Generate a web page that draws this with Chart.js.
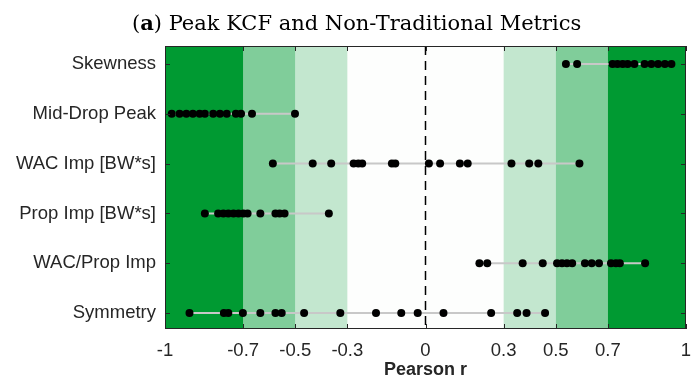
<!DOCTYPE html>
<html>
<head>
<meta charset="utf-8">
<script src="https://cdn.jsdelivr.net/npm/chart.js@4/dist/chart.umd.min.js"></script>
<style>
  body { margin: 0; background: #fff; }
  #wrap { position: relative; width: 692px; height: 387px; }
  #title { position: absolute; left: 132px; top: 12px; white-space: nowrap;
           font-family: "DejaVu Serif", serif; font-size: 21px; line-height: 21px; color: #000; }
  canvas { position: absolute; left: 0; top: 0; }
</style>
</head>
<body>
<div id="wrap">
  <canvas id="pearson" width="692" height="387"></canvas>
  <div id="title">(<b>a</b>) Peak KCF and Non-Traditional Metrics</div>
</div>
<script>
// rows, top to bottom
const metrics = ['Skewness', 'Mid-Drop Peak', 'WAC Imp [BW*s]', 'Prop Imp [BW*s]', 'WAC/Prop Imp', 'Symmetry'];

const skewness = [0.539, 0.582, 0.718, 0.737, 0.757, 0.776, 0.802, 0.841, 0.867, 0.893, 0.919, 0.944];
const midDropPeak = [-0.974, -0.944, -0.918, -0.893, -0.867, -0.847, -0.815, -0.789, -0.763, -0.728, -0.708, -0.666, -0.501];
const wacImp = [-0.586, -0.433, -0.362, -0.276, -0.258, -0.243, -0.129, -0.116, 0.013, 0.056, 0.132, 0.162, 0.330, 0.398, 0.433, 0.591];
const propImp = [-0.847, -0.796, -0.776, -0.757, -0.737, -0.718, -0.699, -0.683, -0.634, -0.576, -0.560, -0.541, -0.371];
const wacPropImp = [0.207, 0.237, 0.373, 0.450, 0.505, 0.524, 0.543, 0.563, 0.612, 0.638, 0.666, 0.712, 0.731, 0.746, 0.843];
const symmetry = [-0.906, -0.774, -0.757, -0.701, -0.634, -0.576, -0.552, -0.466, -0.327, -0.190, -0.093, -0.030, 0.069, 0.252, 0.352, 0.388, 0.459];

const xTicks = [-1, -0.7, -0.5, -0.3, 0, 0.3, 0.5, 0.7, 1];
const bandEdges = [0.3, 0.5, 0.7, 1];
const bandColors = ['rgb(195,231,207)', 'rgb(128,205,154)', 'rgb(0,154,50)'];

const allRows = [skewness, midDropPeak, wacImp, propImp, wacPropImp, symmetry];

const datasets = allRows.map((vals, i) => ({
    label: metrics[i],
    data: vals.map(v => ({ x: v, y: metrics.length - i })),
    showLine: true,
    borderColor: 'rgb(200,200,200)',
    borderWidth: 2,
    pointRadius: 4,
    pointBackgroundColor: '#000',
    pointBorderColor: '#000',
    pointBorderWidth: 0
}));

const bandsPlugin = {
    id: 'bands',
    beforeDatasetsDraw(chart) {
        const { ctx, chartArea: a, scales: { x } } = chart;
        ctx.save();
        ctx.fillStyle = '#fdfefd';
        ctx.fillRect(a.left, a.top, a.right - a.left, a.bottom - a.top);
        for (let k = 0; k < bandColors.length; k++) {
            ctx.fillStyle = bandColors[k];
            const lo = bandEdges[k], hi = bandEdges[k + 1];
            let x1 = x.getPixelForValue(lo), x2 = x.getPixelForValue(hi);
            ctx.fillRect(x1, a.top, x2 - x1, a.bottom - a.top);
            x1 = x.getPixelForValue(-hi); x2 = x.getPixelForValue(-lo);
            ctx.fillRect(x1, a.top, x2 - x1, a.bottom - a.top);
        }
        // dashed zero line
        const x0 = x.getPixelForValue(0);
        ctx.strokeStyle = '#000';
        ctx.lineWidth = 1.5;
        ctx.setLineDash([9, 6]);
        ctx.beginPath();
        ctx.moveTo(x0, a.top);
        ctx.lineTo(x0, a.bottom);
        ctx.stroke();
        ctx.restore();
    },
    afterDatasetsDraw(chart) {
        const { ctx, chartArea: a, scales: { x, y } } = chart;
        ctx.save();
        ctx.strokeStyle = '#262626';
        ctx.lineWidth = 1;
        ctx.strokeRect(a.left + 0.5, a.top + 0.5, a.right - a.left - 1, a.bottom - a.top - 1);
        ctx.beginPath();
        xTicks.forEach(t => {
            const px = Math.round(x.getPixelForValue(t)) + 0.5;
            ctx.moveTo(px, a.top); ctx.lineTo(px, a.top + 5);
            ctx.moveTo(px, a.bottom); ctx.lineTo(px, a.bottom - 5);
        });
        for (let r = 1; r <= metrics.length; r++) {
            const py = Math.round(y.getPixelForValue(r)) + 0.5;
            ctx.moveTo(a.left, py); ctx.lineTo(a.left + 5, py);
            ctx.moveTo(a.right, py); ctx.lineTo(a.right - 5, py);
        }
        ctx.stroke();
        ctx.restore();
    }
};

new Chart(document.getElementById('pearson').getContext('2d'), {
    type: 'scatter',
    data: { datasets: datasets },
    options: {
        responsive: false,
        animation: false,
        layout: { padding: { top: 46, right: 0, left: 0, bottom: 0 } },
        plugins: { legend: { display: false }, tooltip: { enabled: false } },
        scales: {
            x: {
                type: 'linear',
                min: -1,
                max: 1,
                afterBuildTicks: (scale) => { scale.ticks = xTicks.map(v => ({ value: v })); },
                afterFit: (scale) => { scale.height = 58; scale.paddingLeft = 0; scale.paddingRight = 6; },
                grid: { display: false, drawTicks: false },
                border: { display: false },
                ticks: {
                    color: '#262626',
                    font: { family: 'Liberation Sans', size: 18.5 },
                    padding: 11,
                    maxRotation: 0,
                    autoSkip: false,
                    callback: (v) => String(v)
                },
                title: {
                    display: true,
                    text: 'Pearson r',
                    color: '#262626',
                    font: { family: 'Liberation Sans', size: 18, weight: 'bold' },
                    padding: { top: 0, bottom: 6 }
                }
            },
            y: {
                type: 'linear',
                min: 0.68,
                max: 6.36,
                afterBuildTicks: (scale) => { scale.ticks = [1, 2, 3, 4, 5, 6].map(v => ({ value: v })); },
                afterFit: (scale) => { scale.width = 165; scale.paddingTop = 0; scale.paddingBottom = 0; },
                grid: { display: false, drawTicks: false },
                border: { display: false },
                ticks: {
                    color: '#262626',
                    font: { family: 'Liberation Sans', size: 18.5 },
                    padding: 9,
                    autoSkip: false,
                    callback: (v) => metrics[metrics.length - v]
                }
            }
        }
    },
    plugins: [bandsPlugin]
});
</script>
</body>
</html>
